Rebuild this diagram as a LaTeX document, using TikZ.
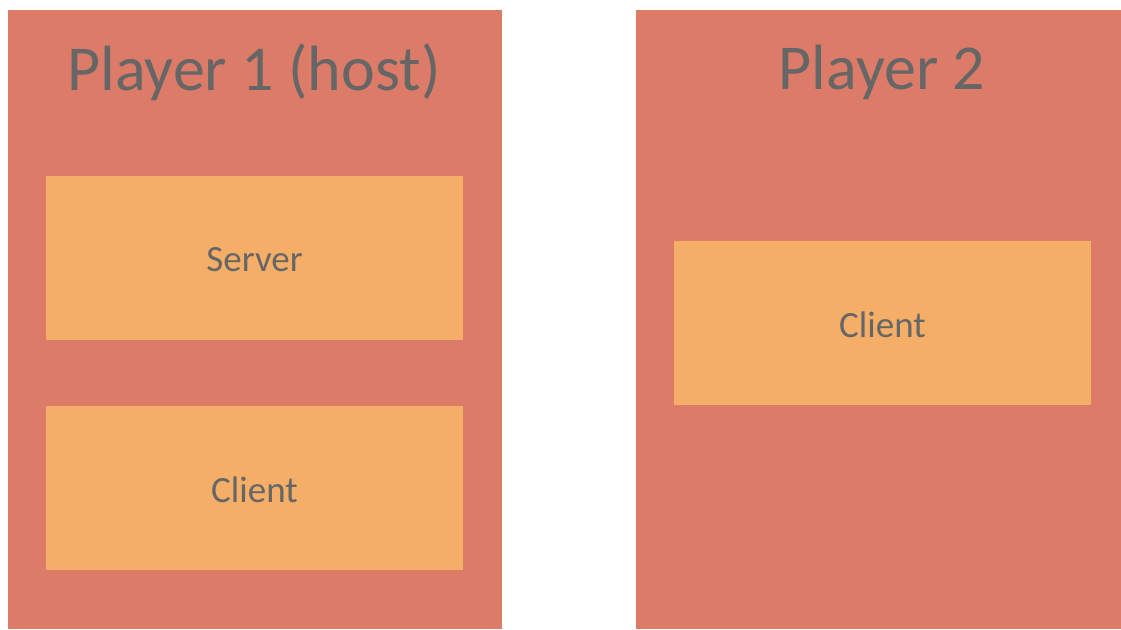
\documentclass[tikz,border=0pt]{standalone}
\usepackage{fontspec}
\setmainfont{Carlito}
\definecolor{panel}{HTML}{DD7B69}
\definecolor{boxc}{HTML}{F4AE68}
\definecolor{txt}{HTML}{666666}
\begin{document}
\begin{tikzpicture}[x=1pt,y=-1pt,
  panelbox/.style={fill=panel,draw=none},
  innerbox/.style={fill=boxc,draw=none},
  title/.style={text=txt,font=\fontsize{64}{66}\selectfont,anchor=center},
  label/.style={text=txt,font=\fontsize{37}{39}\selectfont,anchor=center}]
\useasboundingbox (0,0) rectangle (1121,629);
\fill[panelbox] (8,10) rectangle (502,629);
\fill[panelbox] (636,10) rectangle (1121,629);
\fill[innerbox] (46,176) rectangle (463,340);
\fill[innerbox] (46,406) rectangle (463,570);
\fill[innerbox] (674,241) rectangle (1091,405);
\node[title] (t1) at (254,72) {Player 1 (host)};
\node[title] (t2) at (882,72) {Player 2};
\node[label] (s1) at (254.5,260) {Server};
\node[label] (c1) at (254.5,490) {Client};
\node[label] (c2) at (882.5,325) {Client};
\end{tikzpicture}
\end{document}
